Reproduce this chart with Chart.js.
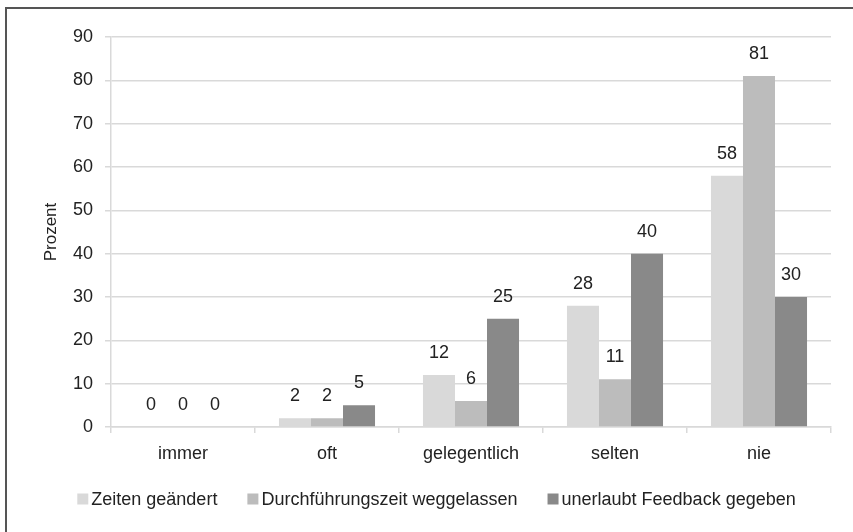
<!DOCTYPE html>
<html>
<head>
<meta charset="utf-8">
<script src="https://cdn.jsdelivr.net/npm/chart.js@4"></script>
<style>
    body { margin: 0; background: #fff; }
    #wrap { position: relative; width: 853px; height: 532px; overflow: hidden; }
    #frame {
        position: absolute; left: 5px; top: 7px; width: 900px; height: 600px;
        border-left: 2px solid #555; border-top: 2px solid #555;
    }
    canvas { position: absolute; left: 0; top: 0; }
</style>
</head>
<body>
<div id="wrap">
    <div id="frame"></div>
    <canvas id="barChart" width="853" height="532"></canvas>
</div>
<script>
var categories = ["immer", "oft", "gelegentlich", "selten", "nie"];
var zeiten_geaendert = [0, 2, 12, 28, 58];
var zeit_weggelassen = [0, 2, 6, 11, 81];
var feedback_gegeben = [0, 5, 25, 40, 30];
var series_names = [
    "Zeiten geändert",
    "Durchführungszeit weggelassen",
    "unerlaubt Feedback gegeben",
];
var y_ticks = [0, 10, 20, 30, 40, 50, 60, 70, 80, 90];

var font_family = "'Liberation Sans', Arial, sans-serif";

// value labels above bars
var barLabels = {
    id: "barLabels",
    afterDatasetsDraw: function (chart) {
        var ctx = chart.ctx;
        ctx.save();
        ctx.font = "18px " + font_family;
        ctx.fillStyle = "#222";
        ctx.textAlign = "center";
        ctx.textBaseline = "alphabetic";
        chart.data.datasets.forEach(function (ds, i) {
            var meta = chart.getDatasetMeta(i);
            meta.data.forEach(function (bar, j) {
                ctx.fillText(ds.data[j], bar.x, bar.y - 17);
            });
        });
        ctx.restore();
    },
};

// legend with small gap between box and text, like the original
var bottomLegend = {
    id: "bottomLegend",
    afterDraw: function (chart) {
        var ctx = chart.ctx;
        var box = 11, gap = 3, spacing = 30, y = 499;
        ctx.save();
        ctx.font = "18px " + font_family;
        ctx.textBaseline = "middle";
        ctx.textAlign = "left";
        var ds = chart.data.datasets;
        var total = 0;
        ds.forEach(function (d, i) {
            total += box + gap + ctx.measureText(d.label).width;
            if (i > 0) total += spacing;
        });
        var x = (chart.width - total) / 2 + 10;
        ds.forEach(function (d) {
            ctx.fillStyle = d.backgroundColor;
            ctx.fillRect(x, y - box / 2, box, box);
            ctx.fillStyle = "#222";
            ctx.fillText(d.label, x + box + gap, y + 1);
            x += box + gap + ctx.measureText(d.label).width + spacing;
        });
        ctx.restore();
    },
};

var barCanvas = document.getElementById("barChart").getContext("2d");

new Chart(barCanvas, {
    type: "bar",
    data: {
        labels: categories,
        datasets: [
            {
                label: series_names[0],
                data: zeiten_geaendert,
                backgroundColor: "#d9d9d9",
            },
            {
                label: series_names[1],
                data: zeit_weggelassen,
                backgroundColor: "#bcbcbc",
            },
            {
                label: series_names[2],
                data: feedback_gegeben,
                backgroundColor: "#898989",
            },
        ],
    },
    options: {
        responsive: false,
        animation: false,
        layout: { padding: { top: 37, right: 22, left: 0, bottom: 57 } },
        datasets: {
            bar: { categoryPercentage: 0.667, barPercentage: 1.0 },
        },
        plugins: {
            legend: { display: false },
            tooltip: { enabled: false },
        },
        scales: {
            x: {
                grid: {
                    drawOnChartArea: false,
                    color: "#d9d9d9",
                    lineWidth: 1.5,
                    tickLength: 6,
                },
                border: { color: "#d9d9d9", width: 1.5 },
                ticks: {
                    color: "#222",
                    padding: 10,
                    font: { family: font_family, size: 18 },
                },
                afterFit: function (scale) {
                    scale.height = 48;
                },
            },
            y: {
                min: 0,
                max: 90,
                afterBuildTicks: function (scale) {
                    scale.ticks = y_ticks.map((v) => ({ value: v }));
                },
                grid: {
                    color: "#d9d9d9",
                    lineWidth: 1.5,
                    tickLength: 6,
                },
                border: { color: "#d9d9d9", width: 1.5 },
                ticks: {
                    color: "#222",
                    padding: 12,
                    font: { family: font_family, size: 18 },
                },
                title: {
                    display: true,
                    text: "Prozent",
                    color: "#222",
                    padding: { top: 41, bottom: 0 },
                    font: { family: font_family, size: 17 },
                },
                afterFit: function (scale) {
                    scale.width = 111;
                },
            },
        },
    },
    plugins: [barLabels, bottomLegend],
});
</script>
</body>
</html>
